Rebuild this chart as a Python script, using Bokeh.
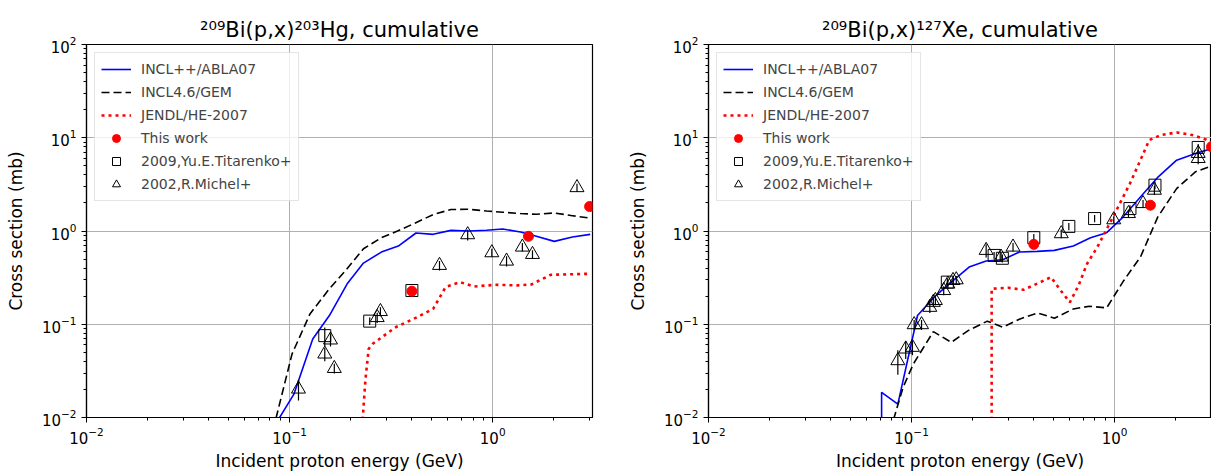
from bokeh.plotting import figure
from bokeh.models import Legend, LegendItem, Range1d
from bokeh.layouts import row
from bokeh.embed import file_html
from bokeh.resources import INLINE

# ---------------- Left panel: 209Bi(p,x)203Hg ----------------
hg_incl_x = [0.088, 0.105, 0.130, 0.157, 0.193, 0.231, 0.283, 0.343, 0.419, 0.509, 0.623, 0.762, 0.933, 1.12, 1.37, 1.64, 2.01, 2.47, 3.02]
hg_incl_y = [0.0095, 0.0178, 0.0695, 0.124, 0.276, 0.453, 0.594, 0.690, 0.952, 0.921, 1.016, 1.0, 1.02, 1.05, 0.976, 0.877, 0.774, 0.862, 0.92]

hg_gem_x = [0.0857, 0.1028, 0.126, 0.157, 0.189, 0.231, 0.283, 0.340, 0.416, 0.509, 0.623, 0.762, 0.933, 1.12, 1.37, 1.64, 2.01, 2.47, 2.96]
hg_gem_y = [0.0098, 0.048, 0.129, 0.24, 0.378, 0.645, 0.848, 1.0, 1.22, 1.50, 1.70, 1.71, 1.64, 1.59, 1.54, 1.51, 1.56, 1.46, 1.38]

hg_jendl_x = [0.229, 0.236, 0.245, 0.256, 0.333, 0.424, 0.509, 0.586, 0.689, 0.811, 1.03, 1.32, 1.55, 1.93, 3.02]
hg_jendl_y = [0.0095, 0.0248, 0.0543, 0.0615, 0.0929, 0.119, 0.146, 0.250, 0.283, 0.254, 0.265, 0.261, 0.267, 0.339, 0.348]

hg_work_x = [0.4, 1.5, 3.0]
hg_work_y = [0.226, 0.877, 1.83]
hg_work_err = [0.02, 0.06, 0.12]

hg_tit_x = [0.149, 0.248, 0.4]
hg_tit_y = [0.0755, 0.108, 0.23]
hg_tit_err = [0.017, 0.01, 0.02]

hg_mic_x = [0.1106, 0.149, 0.159, 0.166, 0.27, 0.28, 0.547, 0.753, 0.99, 1.17, 1.40, 1.57, 2.60]
hg_mic_y = [0.0202, 0.048, 0.0679, 0.0336, 0.118, 0.137, 0.428, 0.913, 0.585, 0.476, 0.673, 0.561, 2.92]
hg_mic_err = [0.005, 0.008, 0.01, 0.004, 0.015, 0.015, 0.05, 0.12, 0.06, 0.06, 0.07, 0.06, 0.3]

# ---------------- Right panel: 209Bi(p,x)127Xe ----------------
xe_incl_x = [0.0712, 0.0712, 0.0856, 0.107, 0.129, 0.157, 0.192, 0.233, 0.281, 0.340, 0.416, 0.505, 0.626, 0.761, 0.914, 1.10, 1.34, 1.64, 2.02, 2.50, 2.98]
xe_incl_y = [0.001, 0.0186, 0.0139, 0.124, 0.195, 0.283, 0.410, 0.476, 0.492, 0.595, 0.604, 0.620, 0.690, 0.848, 0.960, 1.41, 2.32, 3.81, 5.75, 6.79, 7.6]

xe_gem_x = [0.0815, 0.0908, 0.102, 0.128, 0.157, 0.190, 0.236, 0.281, 0.342, 0.419, 0.505, 0.626, 0.751, 0.914, 1.11, 1.34, 1.63, 2.02, 2.50, 2.98]
xe_gem_y = [0.0095, 0.021, 0.0374, 0.0834, 0.064, 0.0855, 0.108, 0.0929, 0.114, 0.132, 0.116, 0.146, 0.156, 0.150, 0.295, 0.525, 1.41, 2.85, 4.31, 4.95]

xe_jendl_x = [0.248, 0.248, 0.299, 0.356, 0.424, 0.486, 0.546, 0.602, 0.664, 0.732, 0.822, 0.925, 1.04, 1.19, 1.34, 1.48, 1.69, 2.02, 2.41, 2.81, 3.0]
xe_jendl_y = [0.001, 0.240, 0.246, 0.234, 0.278, 0.320, 0.226, 0.172, 0.260, 0.446, 0.673, 1.10, 1.81, 3.23, 5.75, 9.44, 10.7, 11.4, 10.7, 9.6, 8.8]

xe_work_x = [0.4, 1.5, 3.0]
xe_work_y = [0.719, 1.89, 8.0]
xe_work_err = [0.05, 0.12, 0.5]

xe_tit_x = [0.150, 0.255, 0.28, 0.4, 0.595, 0.797, 1.19, 1.58, 2.58]
xe_tit_y = [0.283, 0.547, 0.51, 0.848, 1.12, 1.36, 1.74, 3.10, 7.87]
xe_tit_err = [0.03, 0.05, 0.05, 0.08, 0.1, 0.12, 0.15, 0.3, 0.7]

xe_mic_x = [0.0856, 0.0936, 0.101, 0.103, 0.112, 0.123, 0.128, 0.131, 0.144, 0.151, 0.160, 0.166, 0.233, 0.276, 0.316, 0.546, 0.99, 1.17, 1.38, 1.57, 2.58, 2.58]
xe_mic_y = [0.0407, 0.0543, 0.0566, 0.099, 0.099, 0.152, 0.172, 0.18, 0.230, 0.27, 0.295, 0.30, 0.620, 0.525, 0.673, 0.936, 1.32, 1.54, 1.97, 2.74, 6.0, 6.8]
xe_mic_err = [0.012, 0.012, 0.01, 0.012, 0.012, 0.02, 0.02, 0.02, 0.025, 0.03, 0.03, 0.03, 0.1, 0.06, 0.07, 0.1, 0.12, 0.15, 0.18, 0.3, 0.8, 0.7]

titles = ["²⁰⁹Bi(p,x)²⁰³Hg, cumulative", "²⁰⁹Bi(p,x)¹²⁷Xe, cumulative"]
legend_labels = ["INCL++/ABLA07", "INCL4.6/GEM", "JENDL/HE-2007", "This work", "2009,Yu.E.Titarenko+", "2002,R.Michel+"]
x_label = "Incident proton energy (GeV)"
y_label = "Cross section (mb)"

FONT = "DejaVu Sans"


def errbar(p, x, y, e, color):
    lo = [yy - ee for yy, ee in zip(y, e)]
    hi = [yy + ee for yy, ee in zip(y, e)]
    return p.segment(x0=x, y0=lo, x1=x, y1=hi, line_color=color, line_width=1.2)


def panel(title, xend, width, bl, br, incl, gem, jendl, work, tit, mic):
    p = figure(width=width, height=473, x_axis_type="log", y_axis_type="log",
               x_range=Range1d(0.01, xend), y_range=Range1d(0.01, 100),
               output_backend="svg", toolbar_location=None,
               min_border_left=bl, min_border_right=br, min_border_top=44, min_border_bottom=56,
               background_fill_color="white", border_fill_color="white")
    p.title.text = title
    p.title.align = "center"
    p.title.text_font = FONT
    p.title.text_font_size = "21px"
    p.title.text_font_style = "normal"
    p.title.text_color = "black"
    p.title.standoff = 5

    p.outline_line_color = "black"
    p.outline_line_width = 1.2
    p.outline_line_alpha = 1

    for ax in (p.xaxis[0], p.yaxis[0]):
        ax.axis_line_color = "black"
        ax.axis_line_width = 1.2
        ax.major_tick_in = 0
        ax.major_tick_out = 5
        ax.minor_tick_in = 0
        ax.minor_tick_out = 3
        ax.major_tick_line_color = "black"
        ax.minor_tick_line_color = "black"
        ax.major_label_text_font = FONT
        ax.major_label_text_font_size = "15px"
        ax.major_label_text_color = "black"
        ax.axis_label_text_font = FONT
        ax.axis_label_text_font_size = "17px"
        ax.axis_label_text_font_style = "normal"
        ax.axis_label_text_color = "black"
    p.xaxis.axis_label = x_label
    p.yaxis.axis_label = y_label
    p.xaxis.major_label_standoff = 4
    p.yaxis.major_label_standoff = 5
    p.xaxis.axis_label_standoff = 4
    p.yaxis.axis_label_standoff = 13

    p.grid.grid_line_color = "#b0b0b0"
    p.grid.grid_line_width = 1

    r_incl = p.line(incl[0], incl[1], line_color="#0000ff", line_width=1.6)
    r_gem = p.line(gem[0], gem[1], line_color="black", line_width=1.6, line_dash="8 4")
    r_jendl = p.line(jendl[0], jendl[1], line_color="#ff0000", line_width=2.6, line_dash="3 4")

    errbar(p, tit[0], tit[1], tit[2], "black")
    r_tit = p.scatter(tit[0], tit[1], marker="square", size=12, fill_color=None,
                      line_color="black", line_width=1)
    errbar(p, mic[0], mic[1], mic[2], "black")
    r_mic = p.scatter(mic[0], mic[1], marker="triangle", size=14, fill_color=None,
                      line_color="black", line_width=1)
    errbar(p, work[0], work[1], work[2], "#ff0000")
    r_work = p.scatter(work[0], work[1], marker="circle", size=10, fill_color="#ff0000",
                       line_color="#ff0000")

    items = [LegendItem(label=legend_labels[0], renderers=[r_incl]),
             LegendItem(label=legend_labels[1], renderers=[r_gem]),
             LegendItem(label=legend_labels[2], renderers=[r_jendl]),
             LegendItem(label=legend_labels[3], renderers=[r_work]),
             LegendItem(label=legend_labels[4], renderers=[r_tit]),
             LegendItem(label=legend_labels[5], renderers=[r_mic])]
    leg = Legend(items=items, location="top_left", margin=8, padding=6, spacing=3,
                 glyph_width=30, glyph_height=20, label_height=20, label_standoff=10,
                 label_text_font=FONT, label_text_font_size="14px",
                 border_line_color="#cccccc", border_line_width=1,
                 background_fill_color="white", background_fill_alpha=0.8)
    p.add_layout(leg)
    return p


p1 = panel(titles[0], 3.1, 620, 86, 28,
           (hg_incl_x, hg_incl_y), (hg_gem_x, hg_gem_y), (hg_jendl_x, hg_jendl_y),
           (hg_work_x, hg_work_y, hg_work_err), (hg_tit_x, hg_tit_y, hg_tit_err),
           (hg_mic_x, hg_mic_y, hg_mic_err))
p2 = panel(titles[1], 3.0, 591, 88, 0,
           (xe_incl_x, xe_incl_y), (xe_gem_x, xe_gem_y), (xe_jendl_x, xe_jendl_y),
           (xe_work_x, xe_work_y, xe_work_err), (xe_tit_x, xe_tit_y, xe_tit_err),
           (xe_mic_x, xe_mic_y, xe_mic_err))

layout = row(p1, p2)
open("out.html", "w").write(file_html(layout, INLINE))
